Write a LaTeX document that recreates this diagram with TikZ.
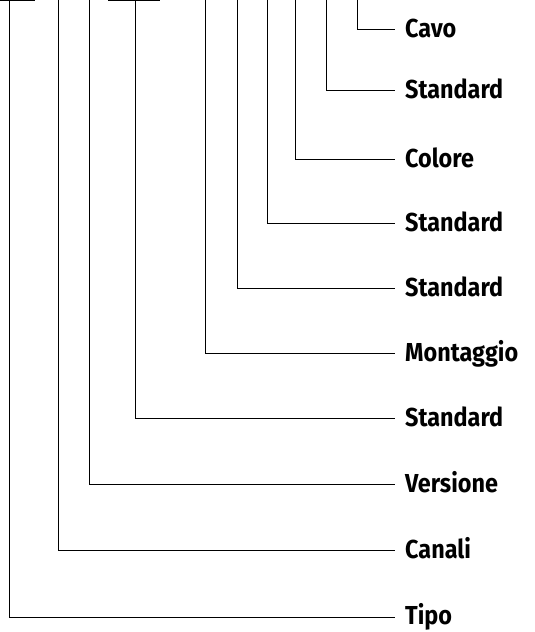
\documentclass[tikz,border=0pt]{standalone}
\usepackage{fontspec}
\setmainfont{Fira Sans}
\newfontfamily\labfont[FakeStretch=0.9]{Fira Sans}
\begin{document}
\begin{tikzpicture}[x=1pt,y=1pt,
		lbl/.style={anchor=base west,inner sep=0pt,font=\labfont\fontsize{26}{28}\selectfont\bfseries},
		lead/.style={line width=0.8pt}]
			\useasboundingbox (0,0) rectangle (535,632);

			\node[lbl] (cavo)  at (405,594) {Cavo};
			\node[lbl] (std5)  at (405,533) {Standard};
			\node[lbl] (col)   at (405,464) {Colore};
			\node[lbl] (std4)  at (405,400) {Standard};
			\node[lbl] (std3)  at (405,335) {Standard};
			\node[lbl] (mont)  at (405,270) {Montaggio};
			\node[lbl] (std2)  at (405,205) {Standard};
			\node[lbl] (vers)  at (405,139) {Versione};
			\node[lbl] (can)   at (405, 73) {Canali};
			\node[lbl] (tipo)  at (405,  7.5) {Tipo};

			\coordinate (t1)  at (  9,632);
			\coordinate (t2)  at ( 58,632);
			\coordinate (t3)  at ( 89,632);
			\coordinate (t4)  at (135,632);
			\coordinate (t5)  at (205,632);
			\coordinate (t6)  at (237,632);
			\coordinate (t7)  at (267,632);
			\coordinate (t8)  at (295,632);
			\coordinate (t9)  at (326,632);
			\coordinate (t10) at (357,632);

			\draw[lead] (  0,631.6)--( 35,631.6);
			\draw[lead] (108,631.6)--(160,631.6);

			\draw[lead] (t1)  |- ([xshift=-10pt]tipo.west |- 0,15);
			\draw[lead] (t2)  |- ([xshift=-10pt]can.west  |- 0,82);
			\draw[lead] (t3)  |- ([xshift=-10pt]vers.west |- 0,148);
			\draw[lead] (t4)  |- ([xshift=-10pt]std2.west |- 0,214);
			\draw[lead] (t5)  |- ([xshift=-10pt]mont.west |- 0,279);
			\draw[lead] (t6)  |- ([xshift=-10pt]std3.west |- 0,344);
			\draw[lead] (t7)  |- ([xshift=-10pt]std4.west |- 0,409);
			\draw[lead] (t8)  |- ([xshift=-10pt]col.west  |- 0,473);
			\draw[lead] (t9)  |- ([xshift=-10pt]std5.west |- 0,542);
			\draw[lead] (t10) |- ([xshift=-10pt]cavo.west |- 0,603);
		\end{tikzpicture}
\end{document}
